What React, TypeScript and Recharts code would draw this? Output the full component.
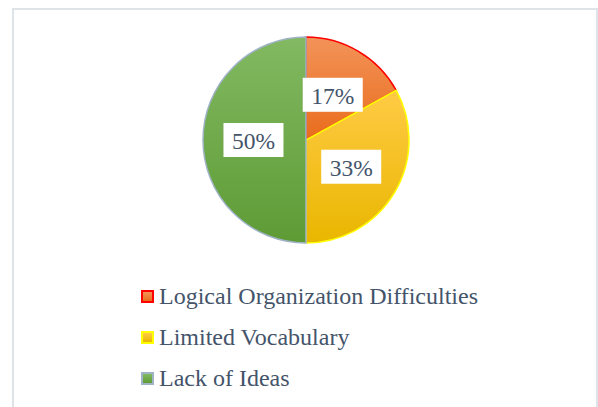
import React from "react";
import { PieChart, Pie, Cell, Legend } from "recharts";

const categories = ["Logical Organization Difficulties", "Limited Vocabulary", "Lack of Ideas"];
const values = [17, 33, 50];
const labels = ["17%", "33%", "50%"];
const gradTop = ["#F39359", "#FFCB45", "#82B962"];
const gradBottom = ["#E96C1C", "#E9B600", "#5E9B35"];
const strokes = ["#FF0000", "#FFFF00", "#9FB2C6"];

const data = categories.map((name, i) => ({ name, value: values[i], label: labels[i] }));

const TEXT = "#44546A";
const FONT = '"Liberation Serif", "Times New Roman", serif';

const RADIAN = Math.PI / 180;

const renderLabel = (props: any) => {
  const { cx, cy, midAngle, outerRadius, index } = props;
  const r = outerRadius * 0.51;
  const x = cx + r * Math.cos(-midAngle * RADIAN);
  const y = cy + r * Math.sin(-midAngle * RADIAN);
  const w = 60;
  const h = 34;
  return (
    <g>
      <rect x={x - w / 2} y={y - h / 2} width={w} height={h} fill="#FFFFFF" />
      <text
        x={x}
        y={y + 1}
        textAnchor="middle"
        dominantBaseline="central"
        fontFamily={FONT}
        fontSize={23.5}
        fill={TEXT}
      >
        {data[index].label}
      </text>
    </g>
  );
};

const renderLegend = () => (
  <div style={{ fontFamily: FONT, fontSize: 24, color: TEXT, textAlign: "left" }}>
    {data.map((d, i) => (
      <div key={d.name} style={{ display: "flex", alignItems: "center", height: 41 }}>
        <span
          style={{
            display: "inline-block",
            width: 9,
            height: 9,
            border: `2px solid ${strokes[i]}`,
            background: `linear-gradient(${gradTop[i]}, ${gradBottom[i]})`,
            marginRight: 5,
          }}
        />
        <span>{d.name}</span>
      </div>
    ))}
  </div>
);

export default function App() {
  return (
    <div
      style={{
        position: "absolute",
        left: 0,
        top: 0,
        width: 598,
        height: 407,
        overflow: "hidden",
        background: "#FFFFFF",
      }}
    >
      <div
        style={{
          position: "absolute",
          left: 12,
          top: 8,
          width: 582,
          height: 420,
          border: "2px solid #DEE3E8",
        }}
      />
      <div style={{ position: "absolute", left: 0, top: 0 }}>
        <PieChart width={598} height={407} margin={{ top: 0, right: 0, bottom: 0, left: 0 }}>
          <defs>
            {data.map((d, i) => (
              <linearGradient key={i} id={`g${i}`} x1="0" y1="0" x2="0" y2="1">
                <stop offset="0%" stopColor={gradTop[i]} />
                <stop offset="100%" stopColor={gradBottom[i]} />
              </linearGradient>
            ))}
          </defs>
          <Pie
            data={data}
            dataKey="value"
            nameKey="name"
            cx={306}
            cy={140}
            outerRadius={103}
            startAngle={90}
            endAngle={-270}
            label={renderLabel}
            labelLine={false}
            isAnimationActive={false}
          >
            {data.map((d, i) => (
              <Cell key={d.name} fill={`url(#g${i})`} stroke={strokes[i]} strokeWidth={1.5} />
            ))}
          </Pie>
          <Legend
            content={renderLegend}
            layout="horizontal"
            verticalAlign="middle"
            align="center"
            wrapperStyle={{ position: "absolute", left: 141, top: 276, width: 440 }}
          />
        </PieChart>
      </div>
    </div>
  );
}
